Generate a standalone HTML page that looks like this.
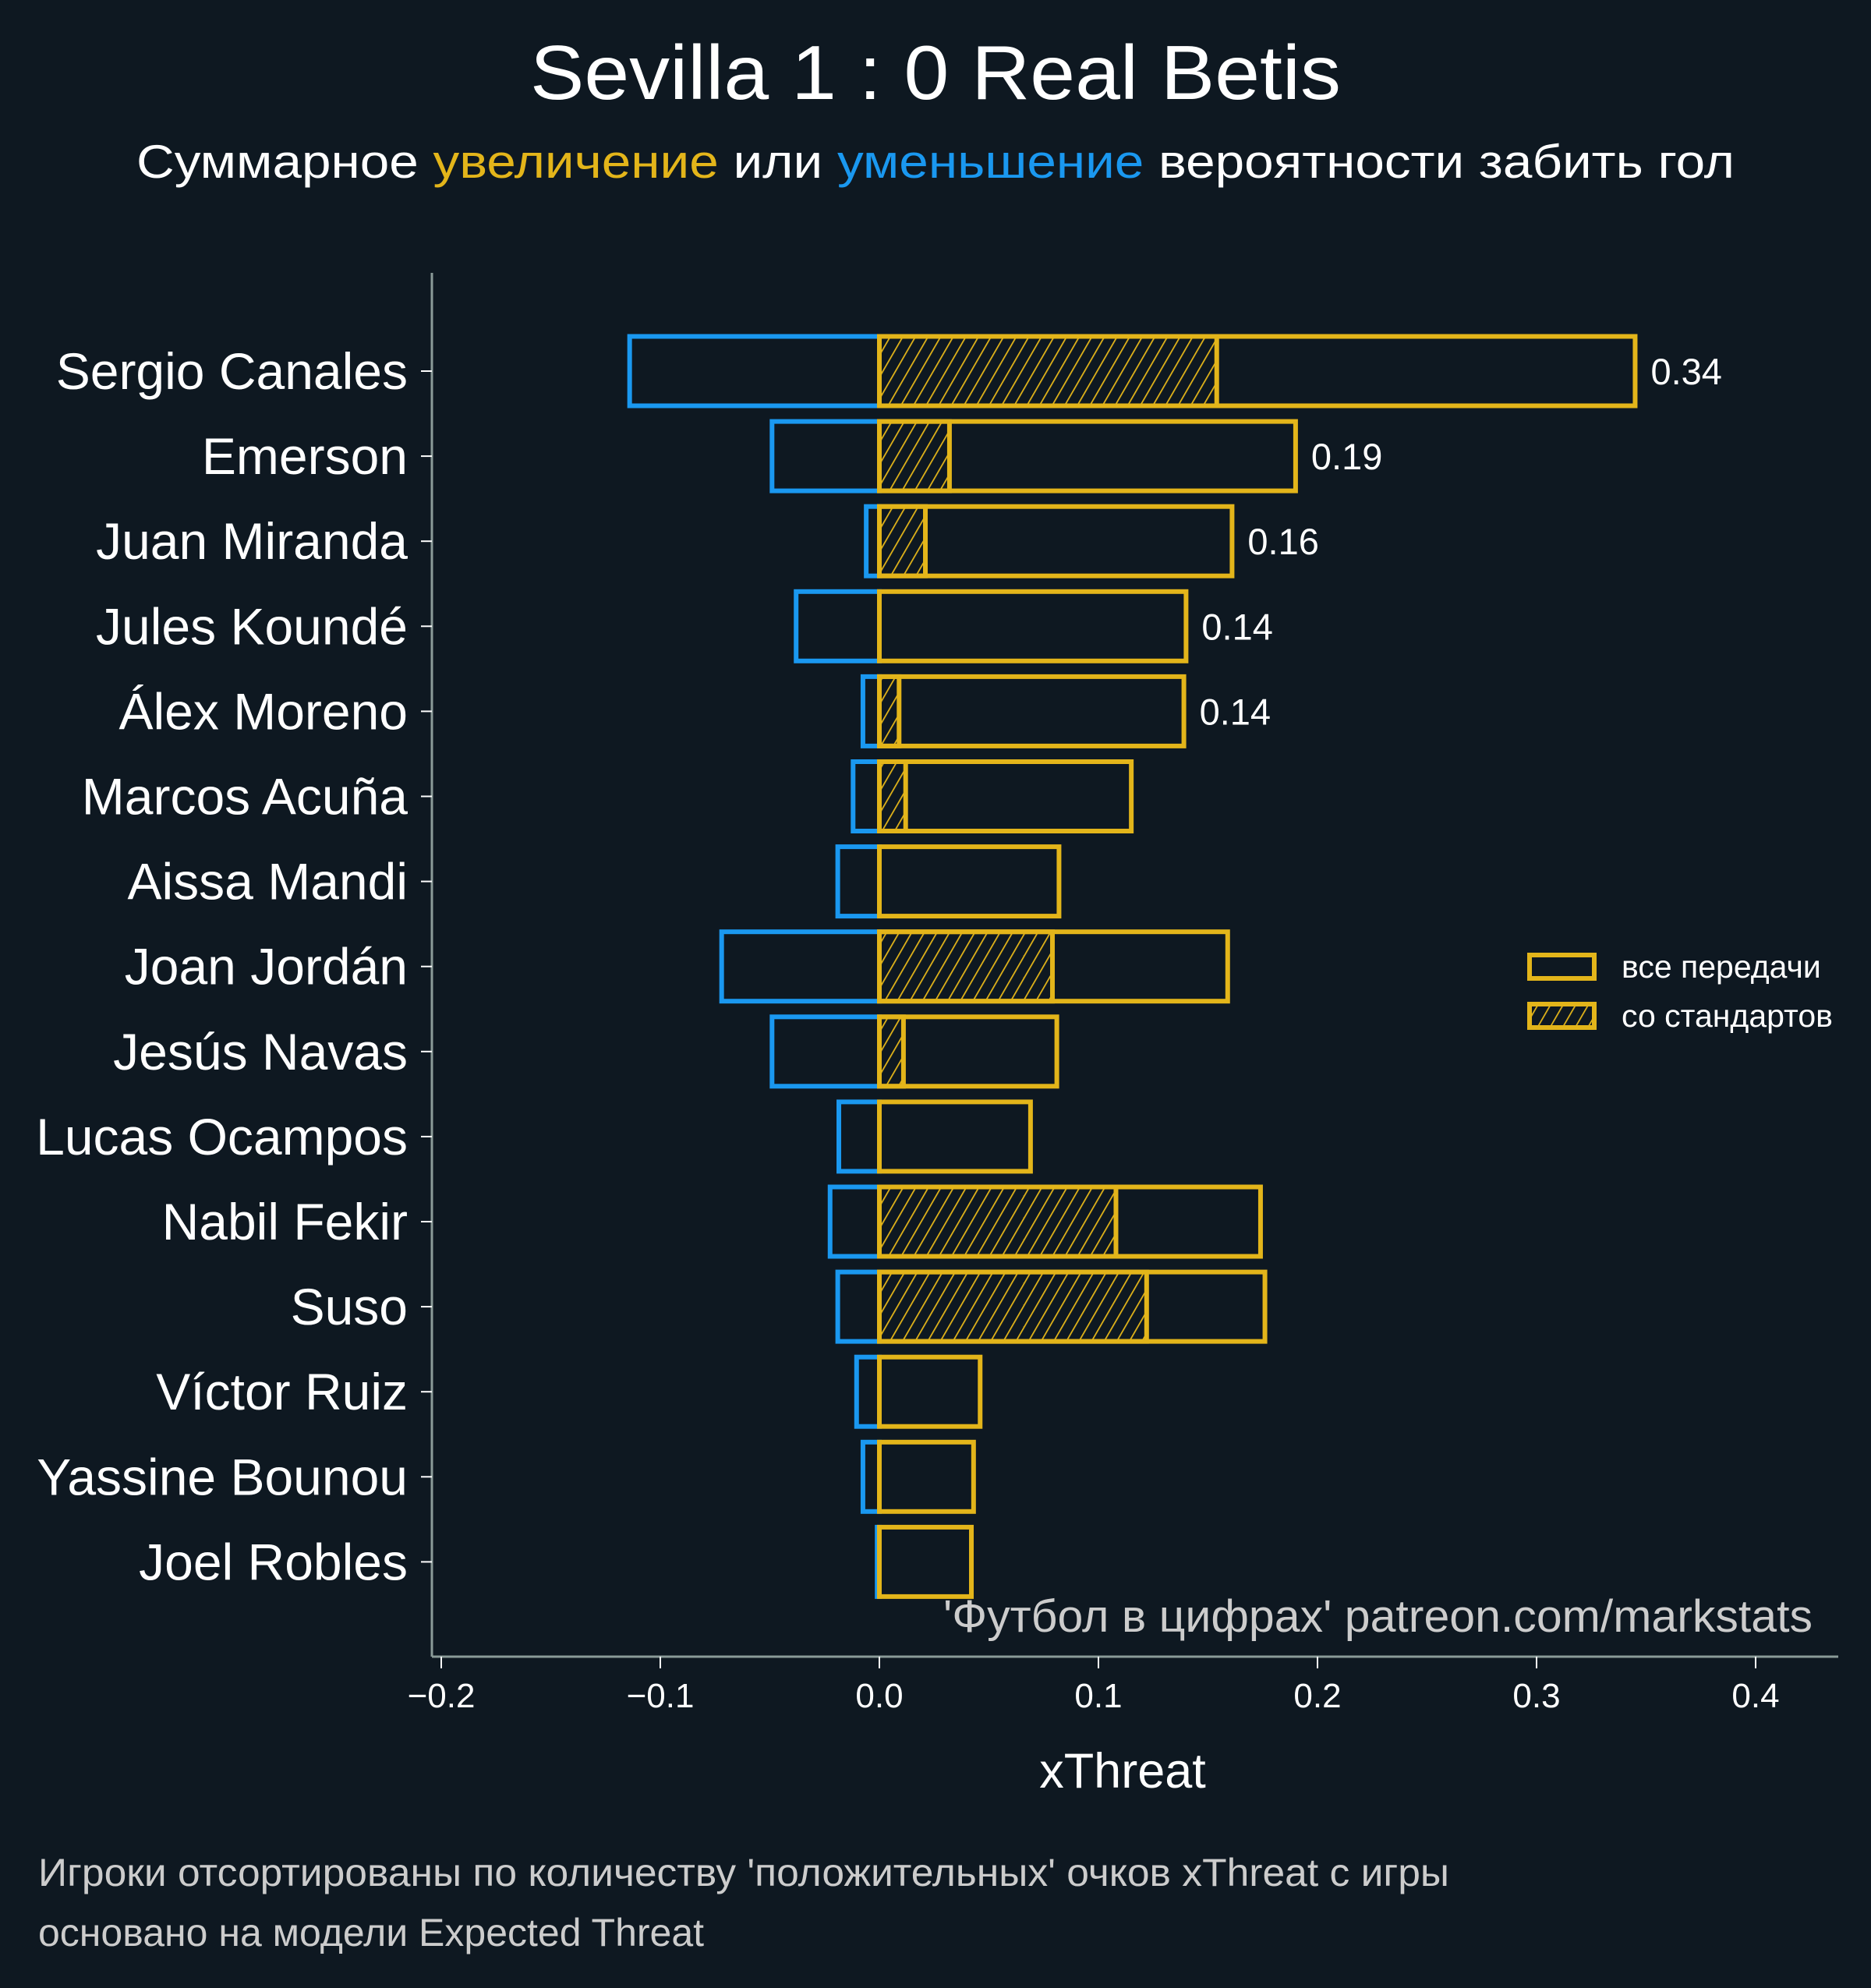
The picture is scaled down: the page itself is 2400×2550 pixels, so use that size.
<!DOCTYPE html>
<html><head><meta charset="utf-8"><style>
html,body{margin:0;padding:0;background:#0e1821;}
svg{display:block;font-family:"Liberation Sans","DejaVu Sans",sans-serif;}
</style></head><body>
<svg id="chart" width="2400" height="2550" viewBox="0 0 2400 2550" xmlns="http://www.w3.org/2000/svg">
<defs>
<pattern id="hatch" patternUnits="userSpaceOnUse" width="14" height="14" patternTransform="rotate(30)">
<line x1="0" y1="0" x2="0" y2="14" stroke="#e3b51a" stroke-width="3.5"/>
</pattern>
</defs>
<rect width="2400" height="2550" fill="#0e1821"/>
<text x="1200" y="127" text-anchor="middle" font-size="98" fill="#ffffff" textLength="1040" lengthAdjust="spacingAndGlyphs">Sevilla 1 : 0 Real Betis</text>
<text x="1200" y="228" text-anchor="middle" font-size="60" fill="#ffffff" textLength="2050" lengthAdjust="spacingAndGlyphs">Суммарное <tspan fill="#e3b51a">увеличение</tspan> или <tspan fill="#1a98f0">уменьшение</tspan> вероятности забить гол</text>
<g id="plot"></g>
<text x="2325" y="2093" text-anchor="end" font-size="58" fill="#cccccc" textLength="1115" lengthAdjust="spacingAndGlyphs">'Футбол в цифрах' patreon.com/markstats</text>
<text x="1440" y="2293" text-anchor="middle" font-size="63" fill="#ffffff">xThreat</text>
<text x="49" y="2419" font-size="50" fill="#cccccc" textLength="1810" lengthAdjust="spacingAndGlyphs">Игроки отсортированы по количеству 'положительных' очков xThreat с игры</text>
<text x="49" y="2496" font-size="50" fill="#cccccc">основано на модели Expected Threat</text>
<g>
<rect x="1962" y="1225" width="83" height="30" fill="none" stroke="#e3b51a" stroke-width="6"/>
<text x="2080" y="1254" font-size="41" fill="#ffffff">все передачи</text>
<rect x="1962" y="1288" width="83" height="30" fill="url(#hatch)" stroke="#e3b51a" stroke-width="6"/>
<text x="2080" y="1317" font-size="41" fill="#ffffff">со стандартов</text>
</g>
</svg>
<script>
const players = ["Sergio Canales","Emerson","Juan Miranda","Jules Koundé","Álex Moreno","Marcos Acuña","Aissa Mandi","Joan Jordán","Jesús Navas","Lucas Ocampos","Nabil Fekir","Suso","Víctor Ruiz","Yassine Bounou","Joel Robles"];
const negValues = [-0.114,-0.049,-0.006,-0.038,-0.0075,-0.012,-0.019,-0.072,-0.049,-0.0185,-0.0225,-0.019,-0.0104,-0.0075,-0.001];
const posValues = [0.345,0.19,0.161,0.14,0.139,0.115,0.082,0.159,0.081,0.069,0.174,0.176,0.046,0.043,0.042];
const setPieceValues = [0.154,0.032,0.021,0,0.009,0.012,0,0.079,0.011,0,0.108,0.122,0,0,0];
const valueLabels = ["0.34","0.19","0.16","0.14","0.14"];
const xTicks = [-0.2,-0.1,0.0,0.1,0.2,0.3,0.4];
const xTickLabels = ["−0.2","−0.1","0.0","0.1","0.2","0.3","0.4"];

const NS = "http://www.w3.org/2000/svg";
const g = document.getElementById('plot');
const X0 = 1128, PX = 2810;
const xs = v => X0 + v * PX;
const ys = i => 476 + i * 109.1;
const BH = 89;
function mk(tag, attrs){const e=document.createElementNS(NS,tag);for(const k in attrs)e.setAttribute(k,attrs[k]);g.appendChild(e);return e;}

let sp = mk('line',{x1:554,y1:350,x2:554,y2:2125,stroke:'#8a9a98','stroke-width':3});


sp = mk('line',{x1:554,y1:2125,x2:2358,y2:2125,stroke:'#8a9a98','stroke-width':3});



xTicks.forEach((t,i)=>{
  const tk = mk('line',{x1:xs(t),y1:2125,x2:xs(t),y2:2140,stroke:'#ffffff','stroke-width':2});
  
  
  const tl = mk('text',{x:xs(t),y:2190,'text-anchor':'middle','font-size':44,fill:'#ffffff'});
  tl.textContent = xTickLabels[i];
  
  
});

players.forEach((p,i)=>{
  const y = ys(i);
  const tk = mk('line',{x1:540,y1:y,x2:554,y2:y,stroke:'#ffffff','stroke-width':2});
  
  
  const lbl = mk('text',{x:523,y:y+23,'text-anchor':'end','font-size':66,fill:'#ffffff'});
  lbl.textContent = p;
  
  

  const n = mk('rect',{x:xs(negValues[i]),y:y-BH/2,width:Math.max(xs(0)-xs(negValues[i]),1),height:BH,fill:'none',stroke:'#1a98f0','stroke-width':6});
  
  
  if(setPieceValues[i]>0){
    const h = mk('rect',{x:xs(0),y:y-BH/2,width:xs(setPieceValues[i])-xs(0),height:BH,fill:'url(#hatch)',stroke:'#e3b51a','stroke-width':6});
    
    
  }
  const b = mk('rect',{x:xs(0),y:y-BH/2,width:xs(posValues[i])-xs(0),height:BH,fill:'none',stroke:'#e3b51a','stroke-width':6});
  
  
  if(i<valueLabels.length){
    const v = mk('text',{x:xs(posValues[i])+20,y:y+17,'font-size':47,fill:'#ffffff'});
    v.textContent = valueLabels[i];
    
    
  }
});
</script>
</body></html>
